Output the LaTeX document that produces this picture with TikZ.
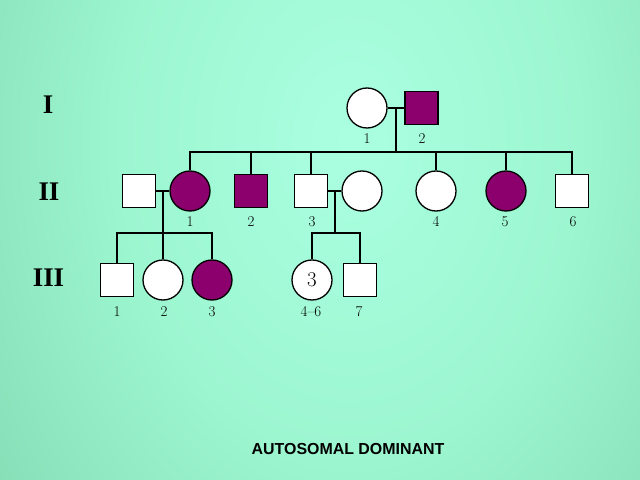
\documentclass[tikz,border=0pt]{standalone}
\usepackage{fontspec}
\newfontfamily\romfont{Liberation Serif}
\newfontfamily\capfont{Liberation Sans}
\usetikzlibrary{calc}
\definecolor{affcol}{RGB}{140,0,110}
\definecolor{bgin}{RGB}{170,255,225}
\definecolor{bgmid}{RGB}{156,246,208}
\definecolor{bgrim}{RGB}{128,216,176}
\definecolor{bgout}{RGB}{100,180,146}
\definecolor{bgedge}{RGB}{86,156,126}
\pgfdeclareradialshading{bgglow}{\pgfpoint{0bp}{0bp}}{color(0bp)=(bgin); color(14bp)=(bgmid); color(30bp)=(bgrim); color(40bp)=(bgout); color(50bp)=(bgedge)}
\begin{document}
\begin{tikzpicture}[x=1bp,y=-1bp,
  male/.style={draw,rectangle,minimum size=33bp,inner sep=0pt,line width=1.3bp,fill=white},
  female/.style={draw,circle,minimum size=40bp,inner sep=0pt,line width=1.3bp,fill=white},
  aff/.style={fill=affcol},
  num/.style={inner sep=0pt,font=\fontsize{15}{18}\selectfont},
  gen/.style={inner sep=0pt,font=\romfont\bfseries\fontsize{27}{30}\selectfont},
  tie/.style={line width=1.8bp}]
\useasboundingbox (0,0) rectangle (640,480);
\begin{scope}
\clip (0,0) rectangle (640,480);
\shade[shading=bgglow] (-60,-420) rectangle (760,700);
\end{scope}
% generation I
\node[female] (I1) at (367,108){};
\node[male,aff] (I2) at (421.5,108){};
% generation II
\node[male] (IIa) at (139,191){};
\node[female,aff] (II1) at (190,191){};
\node[male,aff] (II2) at (251,191){};
\node[male] (II3) at (311,191){};
\node[female] (IIb) at (362,191){};
\node[female] (II4) at (436,191){};
\node[female,aff] (II5) at (506,191){};
\node[male] (II6) at (572,191){};
% generation III
\node[male] (III1) at (117,280){};
\node[female] (III2) at (163,280){};
\node[female,aff] (III3) at (212,280){};
\node[female,font=\fontsize{21}{24}\selectfont] (III4) at (312,280){3};
\node[male] (III7) at (360,280){};
% lines of descent
\coordinate (m1) at (396,108);
\coordinate (s1) at (396,152);
\coordinate (m2) at (163,191);
\coordinate (s2) at (163,233);
\coordinate (m3) at (335,191);
\coordinate (s3) at (335,233);
\draw[tie](I1)--(I2);
\draw[tie](m1)--(s1);
\draw[tie](II1.north)--(II1.north|-s1)--(II6.north|-s1)--(II6.north);
\foreach \k in {II2,II3,II4,II5}
  \draw[tie](\k.north)--(\k.north|-s1);
\draw[tie](IIa)--(II1);
\draw[tie](m2)--(s2);
\draw[tie](III1.north)--(III1.north|-s2)--(III3.north|-s2)--(III3.north);
\draw[tie](III2.north)--(III2.north|-s2);
\draw[tie](II3)--(IIb);
\draw[tie](m3)--(s3);
\draw[tie](III4.north)--(III4.north|-s3)--(III7.north|-s3)--(III7.north);
% numbers
\node[num] (nI1) at (367,139){1};
\node[num] (nI2) at (422,139){2};
\node[num] (nII1) at (190,222){1};
\node[num] (nII2) at (251,222){2};
\node[num] (nII3) at (312,222){3};
\node[num] (nII4) at (436,222){4};
\node[num] (nII5) at (505,222){5};
\node[num] (nII6) at (573,222){6};
\node[num] (nIII1) at (117,312){1};
\node[num] (nIII2) at (164,312){2};
\node[num] (nIII3) at (212,312){3};
\node[num] (nIII4) at (311,312){4--6};
\node[num] (nIII7) at (359,312){7};
% generations
\node[gen] (gI) at (48,105){I};
\node[gen] (gII) at (49,192){II};
\node[gen] (gIII) at (48.5,277.5){III};
\node[inner sep=0pt,font=\capfont\bfseries\fontsize{16}{19}\selectfont] (title) at (348,449){AUTOSOMAL DOMINANT};
\end{tikzpicture}
\end{document}
